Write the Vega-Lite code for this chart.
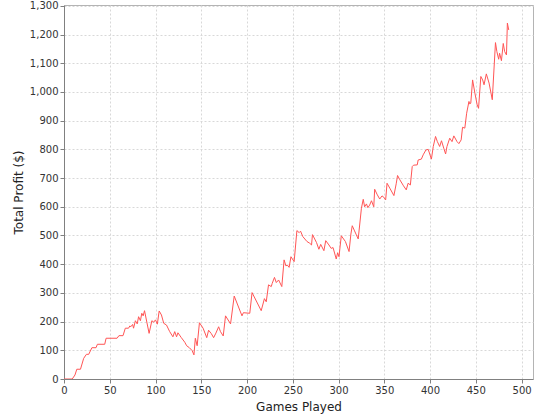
{
  "$schema": "https://vega.github.io/schema/vega-lite/v6.json",
  "width": 469,
  "height": 374,
  "autosize": "none",
  "padding": {"left": 64, "top": 5, "right": 7, "bottom": 41},
  "background": "white",
  "view": {"stroke": "#b4b4b4", "strokeWidth": 1},
  "config": {
    "axis": {
      "labelFont": "DejaVu Sans",
      "labelFontSize": 10,
      "labelColor": "#333333",
      "titleFont": "DejaVu Sans",
      "titleFontSize": 12,
      "titleFontWeight": "normal",
      "titleColor": "#222222",
      "domainColor": "#808080",
      "tickColor": "#808080",
      "tickSize": 4,
      "labelPadding": 2,
      "gridColor": "#d8d8d8",
      "gridDash": [2, 2],
      "gridWidth": 1
    }
  },
  "data": {
    "values": [
      {"g": 0, "p": 0}, {"g": 9, "p": 0}, {"g": 12, "p": 14}, {"g": 14, "p": 34}, {"g": 18, "p": 34},
      {"g": 21.5, "p": 72}, {"g": 24.5, "p": 86}, {"g": 27, "p": 86}, {"g": 30.5, "p": 109}, {"g": 35, "p": 109},
      {"g": 36.5, "p": 121}, {"g": 44.5, "p": 121}, {"g": 46, "p": 142}, {"g": 58, "p": 142}, {"g": 60, "p": 151},
      {"g": 64.5, "p": 151}, {"g": 67, "p": 177}, {"g": 70.5, "p": 177}, {"g": 72, "p": 185}, {"g": 73, "p": 182},
      {"g": 75, "p": 190}, {"g": 76, "p": 177}, {"g": 78, "p": 203}, {"g": 80, "p": 192}, {"g": 81.5, "p": 217},
      {"g": 83.5, "p": 203}, {"g": 85, "p": 229}, {"g": 86.5, "p": 220}, {"g": 88, "p": 238}, {"g": 93, "p": 159},
      {"g": 96, "p": 203}, {"g": 98, "p": 198}, {"g": 100, "p": 206}, {"g": 102, "p": 191}, {"g": 104, "p": 237},
      {"g": 106.5, "p": 223}, {"g": 109, "p": 194}, {"g": 112, "p": 188}, {"g": 115.5, "p": 165}, {"g": 119, "p": 147},
      {"g": 121, "p": 165}, {"g": 123, "p": 147}, {"g": 124.5, "p": 161}, {"g": 128, "p": 145}, {"g": 132, "p": 128},
      {"g": 134, "p": 116}, {"g": 137, "p": 109}, {"g": 140, "p": 99}, {"g": 142, "p": 84}, {"g": 143.5, "p": 142},
      {"g": 145.5, "p": 116}, {"g": 148, "p": 196}, {"g": 152, "p": 177}, {"g": 156, "p": 144}, {"g": 158, "p": 170},
      {"g": 161, "p": 158}, {"g": 163.5, "p": 144}, {"g": 166, "p": 160}, {"g": 169, "p": 182}, {"g": 171, "p": 165},
      {"g": 174, "p": 150}, {"g": 176.5, "p": 220}, {"g": 182, "p": 192}, {"g": 186, "p": 289}, {"g": 194.5, "p": 220},
      {"g": 196, "p": 231}, {"g": 203, "p": 229}, {"g": 205.5, "p": 301}, {"g": 215.5, "p": 238}, {"g": 219, "p": 280},
      {"g": 221, "p": 269}, {"g": 223.5, "p": 328}, {"g": 226.5, "p": 322}, {"g": 227.5, "p": 333}, {"g": 230, "p": 354},
      {"g": 232, "p": 336}, {"g": 234.5, "p": 345}, {"g": 238, "p": 322}, {"g": 240.5, "p": 415}, {"g": 242.5, "p": 394},
      {"g": 244, "p": 397}, {"g": 246, "p": 389}, {"g": 248, "p": 426}, {"g": 251.5, "p": 409}, {"g": 254.5, "p": 517},
      {"g": 257, "p": 510}, {"g": 258.5, "p": 515}, {"g": 261, "p": 496}, {"g": 265.5, "p": 479}, {"g": 268.5, "p": 473},
      {"g": 270.5, "p": 467}, {"g": 271.5, "p": 503}, {"g": 276, "p": 475}, {"g": 278.5, "p": 452}, {"g": 280.5, "p": 469},
      {"g": 284, "p": 447}, {"g": 286, "p": 482}, {"g": 289.5, "p": 467}, {"g": 292, "p": 455}, {"g": 294, "p": 458},
      {"g": 297.5, "p": 418}, {"g": 299, "p": 440}, {"g": 300.5, "p": 426}, {"g": 303, "p": 499}, {"g": 307.5, "p": 479},
      {"g": 311.5, "p": 444}, {"g": 313.5, "p": 505}, {"g": 315, "p": 534}, {"g": 317.5, "p": 516}, {"g": 319.5, "p": 502},
      {"g": 321.5, "p": 488}, {"g": 325, "p": 595}, {"g": 327, "p": 626}, {"g": 328.5, "p": 600}, {"g": 330.5, "p": 610},
      {"g": 332, "p": 597}, {"g": 334, "p": 606}, {"g": 336, "p": 621}, {"g": 338.5, "p": 600}, {"g": 339.5, "p": 661},
      {"g": 342, "p": 644}, {"g": 345, "p": 627}, {"g": 347.5, "p": 638}, {"g": 349.5, "p": 633}, {"g": 351.5, "p": 624},
      {"g": 353, "p": 682}, {"g": 356, "p": 665}, {"g": 360.5, "p": 639}, {"g": 363, "p": 680}, {"g": 364.5, "p": 709},
      {"g": 367, "p": 694}, {"g": 371, "p": 673}, {"g": 374, "p": 659}, {"g": 376, "p": 682}, {"g": 378.5, "p": 676},
      {"g": 380.5, "p": 740}, {"g": 382, "p": 745}, {"g": 386, "p": 746}, {"g": 387, "p": 763}, {"g": 390.5, "p": 766},
      {"g": 392.5, "p": 781}, {"g": 395.5, "p": 798}, {"g": 398, "p": 800}, {"g": 401.5, "p": 766}, {"g": 403.5, "p": 810},
      {"g": 406, "p": 845}, {"g": 408, "p": 827}, {"g": 410.5, "p": 810}, {"g": 412.5, "p": 830}, {"g": 415, "p": 804},
      {"g": 417, "p": 784}, {"g": 418.5, "p": 810}, {"g": 421.5, "p": 839}, {"g": 424, "p": 827}, {"g": 426, "p": 847},
      {"g": 429.5, "p": 827}, {"g": 431.5, "p": 820}, {"g": 434, "p": 833}, {"g": 435.5, "p": 877}, {"g": 438, "p": 874},
      {"g": 440, "p": 926}, {"g": 442.5, "p": 967}, {"g": 443.5, "p": 958}, {"g": 444.5, "p": 961}, {"g": 446.5, "p": 1042},
      {"g": 449, "p": 996}, {"g": 451.5, "p": 955}, {"g": 453, "p": 943}, {"g": 455.5, "p": 1054}, {"g": 457.5, "p": 1042},
      {"g": 459, "p": 1025}, {"g": 461.5, "p": 1063}, {"g": 464.5, "p": 1031}, {"g": 468, "p": 973}, {"g": 471.5, "p": 1172},
      {"g": 473, "p": 1141}, {"g": 475, "p": 1114}, {"g": 476, "p": 1135}, {"g": 478, "p": 1109}, {"g": 480, "p": 1169},
      {"g": 481.5, "p": 1141}, {"g": 483.5, "p": 1129}, {"g": 484.5, "p": 1240}, {"g": 486, "p": 1216}
    ]
  },
  "mark": {"type": "line", "color": "#ff5555", "strokeWidth": 1, "clip": true},
  "encoding": {
    "x": {
      "field": "g",
      "type": "quantitative",
      "title": "Games Played",
      "scale": {"domain": [0, 512.5], "nice": false, "zero": false},
      "axis": {"values": [0, 50, 100, 150, 200, 250, 300, 350, 400, 450, 500], "format": "d", "titlePadding": 6, "labelFlush": false}
    },
    "y": {
      "field": "p",
      "type": "quantitative",
      "title": "Total Profit ($)",
      "scale": {"domain": [0, 1303], "nice": false},
      "axis": {"values": [0, 100, 200, 300, 400, 500, 600, 700, 800, 900, 1000, 1100, 1200, 1300], "format": ",d", "titlePadding": 4, "labelFlush": false}
    }
  }
}
